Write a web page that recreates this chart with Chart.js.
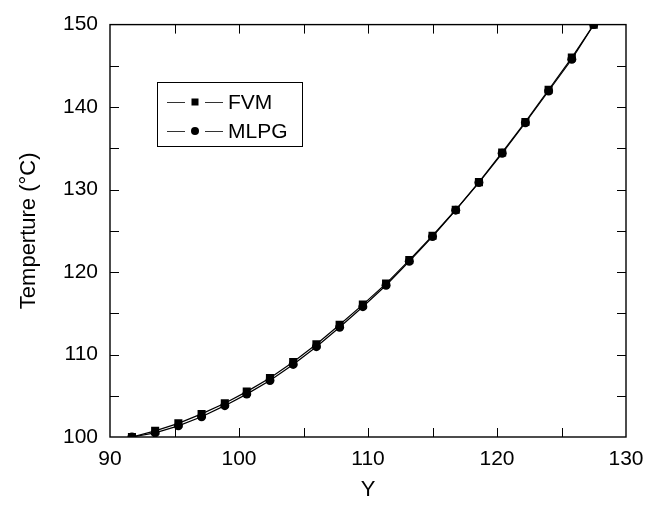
<!DOCTYPE html>
<html>
<head>
<meta charset="utf-8">
<script src="https://cdn.jsdelivr.net/npm/chart.js@4/dist/chart.umd.min.js"></script>
<style>
  html, body { margin: 0; padding: 0; background: #fff; }
  #wrap { width: 654px; height: 505px; position: relative; }
</style>
</head>
<body>
<div id="wrap"><canvas id="c" width="654" height="505"></canvas></div>
<script>
// Position along the channel (Y) and computed temperature for each method
const yPositions = [91.7, 93.5, 95.3, 97.1, 98.9, 100.6, 102.4, 104.2, 106.0, 107.8, 109.6,
                    111.4, 113.2, 115.0, 116.8, 118.6, 120.4, 122.2, 124.0, 125.8, 127.5];
const fvmTemps  = [100.0, 100.75, 101.65, 102.8, 104.1, 105.5, 107.15, 109.1, 111.25, 113.6, 116.05,
                   118.6, 121.45, 124.4, 127.55, 130.9, 134.5, 138.2, 142.1, 146.0, 150.0];
const mlpgTemps = [100.0, 100.5, 101.35, 102.45, 103.8, 105.2, 106.85, 108.8, 110.95, 113.3, 115.8,
                   118.4, 121.3, 124.3, 127.5, 130.85, 134.4, 138.1, 141.95, 145.8, 150.0];
const seriesNames = ['FVM', 'MLPG'];
const xTickRange = [90, 130];
const yTickRange = [100, 150];

const FONT = '"Liberation Sans", Arial, Helvetica, sans-serif';

function toPoints(xs, ys) { return xs.map((x, i) => ({ x: x, y: ys[i] })); }

// Box frame with inward ticks on all four sides (every 5 units)
const framePlugin = {
  id: 'frame',
  afterDatasetsDraw(chart) {
    const { ctx, chartArea: a, scales } = chart;
    const xs = scales.x, ys = scales.y;
    const tl = 9;
    ctx.save();
    ctx.strokeStyle = '#000';
    ctx.lineWidth = 1;
    ctx.beginPath();
    for (let v = xTickRange[0] + 5; v < xTickRange[1]; v += 5) {
      const px = Math.round(xs.getPixelForValue(v)) + 0.5;
      ctx.moveTo(px, a.bottom); ctx.lineTo(px, a.bottom - tl);
      ctx.moveTo(px, a.top); ctx.lineTo(px, a.top + tl);
    }
    for (let v = yTickRange[0] + 5; v < yTickRange[1]; v += 5) {
      const py = Math.round(ys.getPixelForValue(v)) + 0.5;
      ctx.moveTo(a.left, py); ctx.lineTo(a.left + tl, py);
      ctx.moveTo(a.right, py); ctx.lineTo(a.right - tl, py);
    }
    ctx.stroke();
    ctx.lineWidth = 1.4;
    ctx.strokeRect(a.left, a.top, a.right - a.left, a.bottom - a.top);
    ctx.restore();
  }
};

// Boxed legend with line — marker — line samples
const legendPlugin = {
  id: 'boxLegend',
  afterDraw(chart) {
    const { ctx } = chart;
    const box = { x: 157, y: 82, w: 145, h: 64 };
    ctx.save();
    ctx.fillStyle = '#fff';
    ctx.fillRect(box.x, box.y, box.w, box.h);
    ctx.strokeStyle = '#000';
    ctx.lineWidth = 1;
    ctx.strokeRect(box.x + 0.5, box.y + 0.5, box.w, box.h);
    const rows = [102, 131];
    chart.data.datasets.forEach((ds, i) => {
      const y = rows[i];
      ctx.strokeStyle = '#333';
      ctx.lineWidth = 1;
      ctx.beginPath();
      ctx.moveTo(167, y + 0.5); ctx.lineTo(185, y + 0.5);
      ctx.moveTo(205, y + 0.5); ctx.lineTo(223, y + 0.5);
      ctx.stroke();
      ctx.fillStyle = '#000';
      if (ds.pointStyle === 'rect') {
        ctx.fillRect(191.5, y - 3.5, 7, 7);
      } else {
        ctx.beginPath();
        ctx.arc(195, y, 4, 0, Math.PI * 2);
        ctx.fill();
      }
      ctx.font = '21px ' + FONT;
      ctx.textBaseline = 'middle';
      ctx.textAlign = 'left';
      ctx.fillText(ds.label, 228, y + 1);
    });
    ctx.restore();
  }
};

new Chart(document.getElementById('c'), {
  type: 'scatter',
  data: {
    datasets: [
      {
        label: seriesNames[0],
        data: toPoints(yPositions, fvmTemps),
        showLine: true,
        borderColor: '#000',
        borderWidth: 1.2,
        backgroundColor: '#000',
        pointStyle: 'rect',
        pointRadius: 5.7,
        pointBorderWidth: 0
      },
      {
        label: seriesNames[1],
        data: toPoints(yPositions, mlpgTemps),
        showLine: true,
        borderColor: '#000',
        borderWidth: 1.2,
        backgroundColor: '#000',
        pointStyle: 'circle',
        pointRadius: 4.5,
        pointBorderWidth: 0
      }
    ]
  },
  options: {
    responsive: false,
    animation: false,
    layout: { padding: { left: 0, top: 20, right: 28, bottom: 0 } },
    plugins: { legend: { display: false }, tooltip: { enabled: false } },
    scales: {
      x: {
        type: 'linear',
        min: xTickRange[0], max: xTickRange[1],
        grid: { display: false, drawTicks: false },
        border: { display: false },
        ticks: { stepSize: 10, padding: 10, color: '#000', font: { family: FONT, size: 21 } },
        title: { display: true, text: 'Y', color: '#000', font: { family: FONT, size: 22 }, padding: { top: 0, bottom: 2 } },
        afterFit(s) { s.height = 68; }
      },
      y: {
        type: 'linear',
        min: yTickRange[0], max: yTickRange[1],
        grid: { display: false, drawTicks: false },
        border: { display: false },
        ticks: { stepSize: 10, padding: 12, color: '#000', font: { family: FONT, size: 21 } },
        title: { display: true, text: 'Temperture (°C)', color: '#000', font: { family: FONT, size: 22 }, padding: { top: 16, bottom: 0 } },
        afterFit(s) { s.width = 110; }
      }
    }
  },
  plugins: [framePlugin, legendPlugin]
});
</script>
</body>
</html>
